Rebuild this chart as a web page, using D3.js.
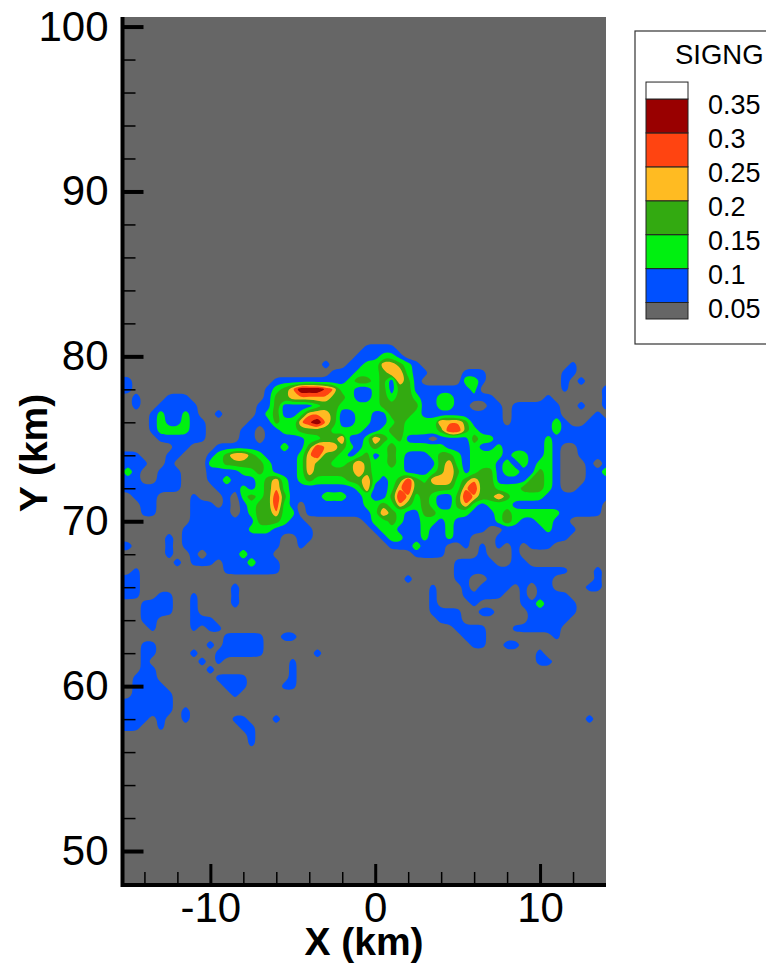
<!DOCTYPE html>
<html><head><meta charset="utf-8">
<script src="https://cdn.jsdelivr.net/npm/d3@7"></script>
<style>html,body{margin:0;padding:0;background:#fff;overflow:hidden}svg{display:block}text{font-family:"Liberation Sans",Arial,sans-serif;fill:#000}</style>
</head><body><svg id="c" width="766" height="964"></svg>
<script>
// SIGNG band index read at every 0.5 km: 0 = below 0.05, 1 = 0.05-0.1, ... 6 = 0.3-0.35
const gridX0 = -15.5, gridY0 = 81, gridStep = 0.5;
const signgBands = [
"0000000000 0000000000 0000000000 0000000000 0000000000 0000000000",
"0000000000 0000000000 0000000000 1111000000 0000000000 0000000000",
"0000000000 0000000000 0000000001 1122100000 0000000000 0000000000",
"0000000000 0000000000 0000010011 2244321000 0000000000 0000010000",
"0000000000 0000000000 0000001112 2234421100 0011100000 0000110000",
"1100000000 0000000001 1111111123 3231431000 0022100000 0000101000",
"1100000000 0000000012 3466654221 1231331111 1112000000 0000100001",
"0010001110 0000000013 3444443321 1232332112 2111110000 0010000001",
"0010011111 0000000113 1111233222 2233333112 2110011011 1111001001",
"0000121121 0010000123 1124443112 2113332111 1111111011 1111000010",
"0000121121 1000001113 2245643112 2112322224 4431111011 1112100111",
"0000122221 1000011011 2233332222 1123322223 5532111111 1112111111",
"0000011111 1000011011 1112233411 2432311101 1113221111 1121111111",
"0000000110 0011111111 2113544321 2323222222 1112112111 1121001111",
"1110001100 0123443211 1124533212 3123211123 3212222122 1121001111",
"1111001000 0223333321 1124332234 3223211113 4212221212 1221000101",
"1210011100 0111122321 1124333334 3222211123 4312331221 1321000112",
"1110011100 0112111234 2123222233 4212353244 4234331111 3321000111",
"1111111100 0011121234 2111111112 4112453333 3245332223 3321001111",
"0011100001 0001023235 3111122211 2113542321 1354334322 2211111111",
"0001100001 1101012335 2101111111 2232432321 1342122211 1111111110",
"0001100001 1111012334 2201111111 1243211332 2221112322 2222111110",
"0000000001 1111111333 2110000000 1223211221 2111112321 1221100000",
"0000000011 1111112221 1111000000 0122111211 2111100111 1121110000",
"0000001011 1111111111 0011000000 0012211211 2110001111 1111100000",
"1100001011 1111111111 0010000000 0001112111 0010101010 1110000000",
"0000001001 0111121110 0000000000 0000001111 0000100010 0000000000",
"0000000101 1101112111 0000000000 0000000000 0111110011 0000000000",
"0010000000 0001111111 0000000000 0000000000 0111111111 1111100010",
"1110000000 0000000000 0000000000 0000010000 0110011111 1110000010",
"1110000000 0000100000 0000000000 0000000010 0010111101 0110000110",
"1110011001 0000100000 0000000000 0000000010 0011111001 0111100000",
"0001111001 0000100000 0000000000 0000000010 0001000001 1211110000",
"0001111001 0000000000 0000000000 0000000011 1100110000 1111110000",
"0001100001 1100000000 0000000000 0000000001 1100000000 1111100000",
"0000100001 0110000000 0000000000 0000000000 0111100011 1111000000",
"0000000000 0001111100 1100000000 0000000000 0011100000 0001000000",
"0001100000 0101111100 0000000000 0000000000 0001100110 0000000000",
"0001100001 0011111100 0000100000 0000000000 0000000000 0100000000",
"0001000000 1010000000 0100000000 0000000000 0000000000 0110000000",
"0001100000 0100000000 0100000000 0000000000 0000000000 0000000000",
"0011100000 0011110000 0100000000 0000000000 0000000000 0000000000",
"0011110000 0001110000 1100000000 0000000000 0000000000 0000000000",
"0011111000 0000100000 0000000000 0000000000 0000000000 0000000000",
"1111111000 0000000000 0000000000 0000000000 0000000000 0000000000",
"1111111010 0000000000 0000000000 0000000000 0000000000 0000000000",
"1111010010 0000110001 0000000000 0000000000 0000000000 0000000100",
"1110010000 0000011000 0000000000 0000000000 0000000000 0000000000",
"0000000000 0000001000 0000000000 0000000000 0000000000 0000000000",
"0000000000 0000001000 0000000000 0000000000 0000000000 0000000000",
"0000000000 0000000000 0000000000 0000000000 0000000000 0000000000"
];
const bandValues = [0.02, 0.075, 0.125, 0.175, 0.24, 0.29, 0.34];
const levels = [0.05, 0.1, 0.15, 0.2, 0.25, 0.3, 0.35];
const levelLabels = ["0.05", "0.1", "0.15", "0.2", "0.25", "0.3", "0.35"];
const bandColors = ["#666666", "#0050ff", "#00f010", "#33aa11", "#ffbb22", "#ff4411", "#990000", "#ffffff"];
const xMajor = [-10, 0, 10];
const xMinor = [-14, -12, -8, -6, -4, -2, 2, 4, 6, 8, 12];
const yMajor = [50, 60, 70, 80, 90, 100];
const yMinor = [52, 54, 56, 58, 62, 64, 66, 68, 72, 74, 76, 78, 82, 84, 86, 88, 92, 94, 96, 98];

const svg = d3.select("#c");
const L = 122, R = 606, T = 17, B = 885;
const x = d3.scaleLinear().domain([-15.33, 14]).range([122.5, 606]);
const y = d3.scaleLinear().domain([47.94, 100.58]).range([885, 17]);

svg.append("rect").attr("x", L).attr("y", T).attr("width", R - L).attr("height", B - T).attr("fill", bandColors[0]);
svg.append("defs").append("clipPath").attr("id", "plot").append("rect")
  .attr("x", L).attr("y", T).attr("width", R - L).attr("height", B - T);

const rows = signgBands.map(r => r.replace(/ /g, ""));
const ny = rows.length, nx = rows[0].length;
const values = [];
rows.forEach(r => { for (const ch of r) values.push(bandValues[+ch]); });
const contours = d3.contours().size([nx, ny]).smooth(true).thresholds(levels.slice(0, 6))(values);
const px = p => [x(gridX0 + gridStep * (p[0] - 0.5)), y(gridY0 - gridStep * (p[1] - 0.5))];
const lineBasis = d3.line().curve(d3.curveBasisClosed);
const lineRound = d3.line().curve(d3.curveCatmullRomClosed);
const ringPath = ring => {
  const pts = ring.slice(0, -1).map(px);
  return pts.length > 10 ? lineBasis(pts) : lineRound(pts);
};
svg.append("g").attr("clip-path", "url(#plot)").selectAll("path").data(contours).join("path")
  .attr("fill-rule", "evenodd")
  .attr("d", d => d.coordinates.flat().map(ringPath).join(""))
  .attr("fill", (d, i) => bandColors[i + 1]);

// axes
function style(g, w) { g.select(".domain").remove(); g.selectAll("line").attr("stroke", "#000").attr("stroke-width", w); }
const gl = svg.append("g").attr("transform", `translate(${L + 0.5},0)`);
gl.append("g").call(d3.axisLeft(y).tickValues(yMinor).tickSize(-13).tickFormat("")).call(style, 1.5);
gl.append("g").call(d3.axisLeft(y).tickValues(yMajor).tickSize(-21).tickPadding(14).tickFormat(d3.format("d")))
  .call(style, 4).selectAll("text").attr("font-size", 42).style("font-family", '"Liberation Sans"').attr("fill", "#000");
const gb = svg.append("g").attr("transform", `translate(0,${B})`);
gb.append("g").call(d3.axisBottom(x).tickValues(xMinor).tickSize(-13).tickFormat("")).call(style, 1.5);
gb.append("g").call(d3.axisBottom(x).tickValues(xMajor).tickSize(-21).tickPadding(7).tickFormat(d => String(d)))
  .call(style, 3).selectAll("text").attr("font-size", 42).style("font-family", '"Liberation Sans"').attr("fill", "#000");
svg.append("line").attr("x1", L + 0.5).attr("x2", L + 0.5).attr("y1", T).attr("y2", B + 2).attr("stroke", "#000").attr("stroke-width", 4);
svg.append("line").attr("x1", L - 1).attr("x2", R).attr("y1", B).attr("y2", B).attr("stroke", "#000").attr("stroke-width", 4);

svg.append("text").attr("x", 364).attr("y", 955).attr("text-anchor", "middle").attr("font-size", 39).attr("font-weight", "bold").text("X (km)");
svg.append("text").attr("transform", "translate(47,453) rotate(-90)").attr("text-anchor", "middle").attr("font-size", 39).attr("font-weight", "bold").text("Y (km)");

// legend
svg.append("rect").attr("x", 635).attr("y", 31).attr("width", 140).attr("height", 313).attr("fill", "#fff").attr("stroke", "#333").attr("stroke-width", 1.2);
svg.append("text").attr("x", 675).attr("y", 64).attr("font-size", 27.5).text("SIGNG");
const legY = d3.scaleLinear().domain([0.05, 0.35]).range([302.5, 99]);
const legendBands = [[0.0257, 0.05], [0.05, 0.1], [0.1, 0.15], [0.15, 0.2], [0.2, 0.25], [0.25, 0.3], [0.3, 0.35], [0.35, 0.375]];
svg.append("g").selectAll("rect").data(legendBands).join("rect")
  .attr("x", 646).attr("width", 42).attr("y", d => legY(d[1])).attr("height", d => legY(d[0]) - legY(d[1]))
  .attr("fill", (d, i) => bandColors[i]).attr("stroke", "#222").attr("stroke-width", 1);
svg.append("g").selectAll("text").data(levels).join("text")
  .attr("x", 708).attr("y", d => legY(d) + 15).attr("font-size", 27).text((d, i) => levelLabels[i]);
</script></body></html>
